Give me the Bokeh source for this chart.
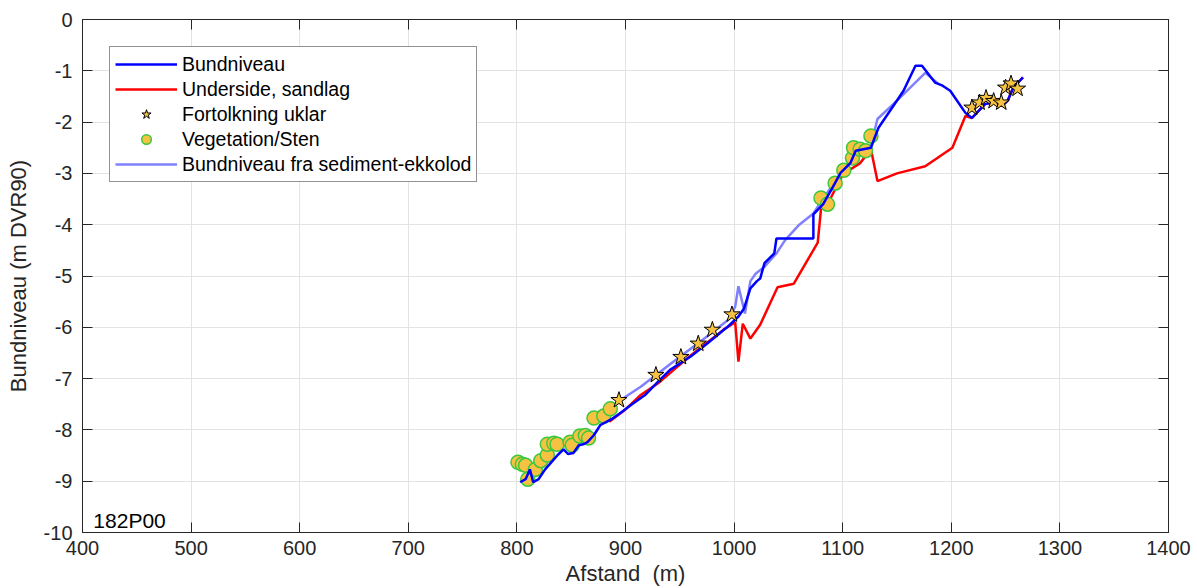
from bokeh.plotting import figure
from bokeh.models import Range1d, FixedTicker, LinearAxis, Legend, LegendItem, Label
from bokeh.embed import file_html
from bokeh.resources import INLINE

# ---- data ----
bund_x = [803, 808, 812, 815, 820, 826, 833, 838, 843, 847, 852, 857, 861, 865, 871, 877, 882, 888, 894,
          906, 918, 930, 941, 960, 975, 994, 1004, 1009, 1015, 1021, 1024, 1028, 1037, 1039, 1073, 1073,
          1082, 1090, 1098, 1107, 1112, 1119, 1126, 1130, 1133, 1150, 1156, 1167, 1173, 1185, 1192, 1199,
          1213, 1219, 1231, 1238, 1247, 1252, 1257, 1266]
bund_y = [-9.02, -8.96, -8.77, -9.02, -8.96, -8.77, -8.60, -8.48, -8.38, -8.47, -8.45, -8.30, -8.28, -8.24,
          -8.10, -7.90, -7.85, -7.78, -7.69, -7.50, -7.32, -7.06, -6.83, -6.57, -6.32, -5.99, -5.79, -5.64,
          -5.24, -5.10, -5.05, -4.75, -4.56, -4.27, -4.27, -3.80, -3.60, -3.30, -2.99, -2.80, -2.56, -2.53,
          -2.50, -2.27, -2.11, -1.58, -1.39, -0.90, -0.90, -1.23, -1.29, -1.39, -1.82, -1.92, -1.65, -1.62,
          -1.68, -1.58, -1.33, -1.13]

sand_x = [885, 900, 914, 930, 945, 960, 975, 990, 1001, 1004, 1008, 1015, 1024, 1040, 1055, 1077, 1080,
          1089, 1100, 1116, 1126, 1132, 1150, 1176, 1201, 1213, 1219, 1231, 1238, 1247, 1252, 1257, 1266]
sand_y = [-7.84, -7.60, -7.32, -7.09, -6.82, -6.55, -6.30, -6.05, -5.90, -6.67, -5.93, -6.22, -5.95, -5.22,
          -5.15, -4.35, -3.70, -3.48, -3.02, -2.80, -2.53, -3.15, -3.00, -2.86, -2.50, -1.88, -1.92, -1.65,
          -1.62, -1.68, -1.58, -1.33, -1.13]

sed_x = [893, 914, 944, 975, 995, 1001, 1004, 1010, 1015, 1020, 1028, 1039, 1047, 1060, 1073, 1080, 1090,
         1100, 1110, 1120, 1126, 1132, 1150, 1176, 1188]
sed_y = [-7.45, -7.16, -6.67, -6.18, -5.85, -5.60, -5.20, -5.73, -5.10, -4.95, -4.82, -4.56, -4.30, -4.00,
         -3.78, -3.55, -3.25, -2.95, -2.65, -2.50, -2.45, -1.94, -1.58, -1.04, -1.25]

veg_x = [801, 805, 808, 810, 817, 822, 828, 828, 834, 837, 849, 851, 858, 863, 866, 871, 880, 886,
         1080, 1086, 1093, 1101, 1109, 1110, 1116, 1121, 1126]
veg_y = [-8.63, -8.67, -8.69, -8.96, -8.77, -8.60, -8.49, -8.28, -8.26, -8.28, -8.24, -8.30, -8.12, -8.11,
         -8.16, -7.77, -7.73, -7.59, -3.48, -3.60, -3.19, -2.94, -2.70, -2.50, -2.53, -2.56, -2.27]

uklar_x = [894, 928, 951, 967, 980, 998, 1219, 1226, 1232, 1239, 1246, 1250, 1255, 1261]
uklar_y = [-7.42, -6.93, -6.58, -6.32, -6.05, -5.75, -1.72, -1.62, -1.53, -1.59, -1.62, -1.33, -1.25, -1.35]

x_ticks = list(range(400, 1401, 100))
y_ticks = list(range(-10, 1))
x_labels = {t: str(t) for t in x_ticks}
y_labels = {t: str(t) for t in y_ticks}

FONT = "Liberation Sans"
AX = "#262626"

p = figure(width=1197, height=588, x_range=Range1d(400, 1400), y_range=Range1d(-10, 0),
           output_backend="svg", toolbar_location=None,
           min_border_left=82, min_border_right=29, min_border_top=19, min_border_bottom=40)
p.outline_line_color = AX
p.outline_line_width = 1

for ax, ticks, labels in [(p.xaxis[0], x_ticks, x_labels), (p.yaxis[0], y_ticks, y_labels)]:
    ax.ticker = FixedTicker(ticks=ticks)
    ax.major_label_overrides = labels
    ax.major_tick_in = 10
    ax.major_tick_out = 0
    ax.minor_tick_in = 0
    ax.minor_tick_out = 0
    ax.axis_line_color = AX
    ax.major_tick_line_color = AX
    ax.major_label_text_font = FONT
    ax.major_label_text_font_size = "20px"
    ax.major_label_text_color = AX
    ax.axis_label_text_font = FONT
    ax.axis_label_text_font_size = "22px"
    ax.axis_label_text_font_style = "normal"
    ax.axis_label_text_color = AX

p.xaxis.axis_label = "Afstand \u00a0(m)"
p.xaxis.major_label_standoff = 8
p.xaxis.axis_label_standoff = 3
p.yaxis.axis_label = "Bundniveau (m DVR90)"
p.yaxis.major_label_standoff = 10
p.yaxis.axis_label_standoff = 10

for loc, ticks in [("right", y_ticks), ("above", x_ticks)]:
    extra = LinearAxis(ticker=FixedTicker(ticks=ticks),
                       major_label_overrides={t: "" for t in ticks},
                       major_label_text_font_size="1px",
                       major_tick_in=10, major_tick_out=0, minor_tick_in=0, minor_tick_out=0,
                       axis_line_color=AX, major_tick_line_color=AX, major_label_standoff=0)
    p.add_layout(extra, loc)

p.xgrid.ticker = FixedTicker(ticks=x_ticks)
p.ygrid.ticker = FixedTicker(ticks=y_ticks)
p.xgrid.grid_line_color = "#e3e3e3"
p.ygrid.grid_line_color = "#e3e3e3"

r_sand = p.line(sand_x, sand_y, line_color="#ff0000", line_width=2.5)
r_sed = p.line(sed_x, sed_y, line_color="#8080ff", line_width=2.5)
r_veg = p.scatter(veg_x, veg_y, marker="circle", size=14, fill_color="#f7c242",
                  line_color="#3cc83c", line_width=1.5)
r_bund = p.line(bund_x, bund_y, line_color="#0000ff", line_width=2.5)
r_uklar = p.scatter(uklar_x, uklar_y, marker="star", size=17, fill_color="#f7c242",
                    line_color="#000000", line_width=1)

p.add_layout(Label(x=410, y=-9.77, text="182P00", text_font=FONT, text_font_size="21px",
                   text_color="#000000", text_baseline="middle"))

legend = Legend(items=[
    LegendItem(label="Bundniveau", renderers=[r_bund]),
    LegendItem(label="Underside, sandlag", renderers=[r_sand]),
    LegendItem(label="Fortolkning uklar", renderers=[r_uklar]),
    LegendItem(label="Vegetation/Sten", renderers=[r_veg]),
    LegendItem(label="Bundniveau fra sediment-ekkolod", renderers=[r_sed]),
], location="top_left", margin=27, padding=5, spacing=1, glyph_width=62, glyph_height=24,
    label_standoff=5, label_text_font=FONT, label_text_font_size="19.5px", label_text_color="#000000",
    border_line_color=AX, border_line_width=1, background_fill_alpha=1.0)
p.add_layout(legend)

open("out.html", "w").write(file_html(p, INLINE))
